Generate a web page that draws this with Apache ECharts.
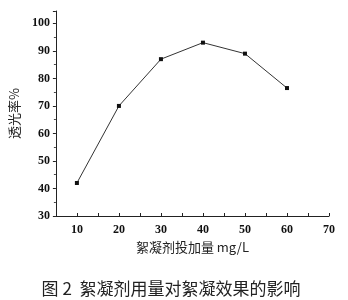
<!DOCTYPE html>
<html><head><meta charset="utf-8">
<script src="https://cdn.jsdelivr.net/npm/echarts@6/dist/echarts.min.js"></script>
<style>html,body{margin:0;padding:0;background:#fff}#c{width:348px;height:300px}</style>
</head><body><div id="c"></div>
<script>
const dosage = [10, 20, 30, 40, 50, 60];
const transmittance = [42, 70, 87, 93, 89, 76.5];
const xTicks = [10, 20, 30, 40, 50, 60, 70];
const yTicks = [30, 40, 50, 60, 70, 80, 90, 100];
const xName = '絮凝剂投加量 mg/L';
const yName = '透光率%';
const caption = '图 2  絮凝剂用量对絮凝效果的影响';

const chart = echarts.init(document.getElementById('c'), null, {renderer: 'canvas'});
const tickFont = {fontFamily: 'Liberation Serif', fontWeight: 'bold', fontSize: 12, color: '#111'};
chart.setOption({
  animation: false,
  grid: {left: 55, right: 19, top: 11, bottom: 84, containLabel: false},
  title: {text: caption, left: 166, top: 275, textAlign: 'center',
    textStyle: {fontFamily: 'Noto Sans CJK SC', fontWeight: 'normal', fontSize: 17, color: '#222'}},
  xAxis: {
    type: 'value', min: 5, max: 70, interval: 5,
    name: xName, nameLocation: 'middle', nameGap: 24,
    nameTextStyle: {fontFamily: 'Noto Sans CJK SC', fontSize: 13, color: '#222'},
    axisLine: {show: true, lineStyle: {color: '#222', width: 1}},
    axisTick: {show: true, inside: true, length: 3, lineStyle: {color: '#222'}},
    minorTick: {show: false},
    axisLabel: Object.assign({margin: 8, formatter: v => xTicks.indexOf(v) >= 0 ? String(v) : ''}, tickFont),
    splitLine: {show: false}
  },
  yAxis: {
    type: 'value', min: 30, max: 104.5, interval: 10,
    name: yName, nameLocation: 'middle', nameGap: 29, nameRotate: 90,
    nameTextStyle: {fontFamily: 'Noto Sans CJK SC', fontSize: 13, color: '#222'},
    axisLine: {show: true, lineStyle: {color: '#222', width: 1}},
    axisTick: {show: true, inside: false, length: 3, lineStyle: {color: '#222'}},
    minorTick: {show: true, splitNumber: 2, length: 2, lineStyle: {color: '#444'}},
    axisLabel: Object.assign({margin: 6, formatter: v => yTicks.indexOf(v) >= 0 ? String(v) : ''}, tickFont),
    splitLine: {show: false}
  },
  series: [{
    type: 'line',
    data: dosage.map((d, i) => [d, transmittance[i]]),
    symbol: 'rect', symbolSize: 4,
    itemStyle: {color: '#111'},
    lineStyle: {color: '#333', width: 1}
  }]
});
</script></body></html>
